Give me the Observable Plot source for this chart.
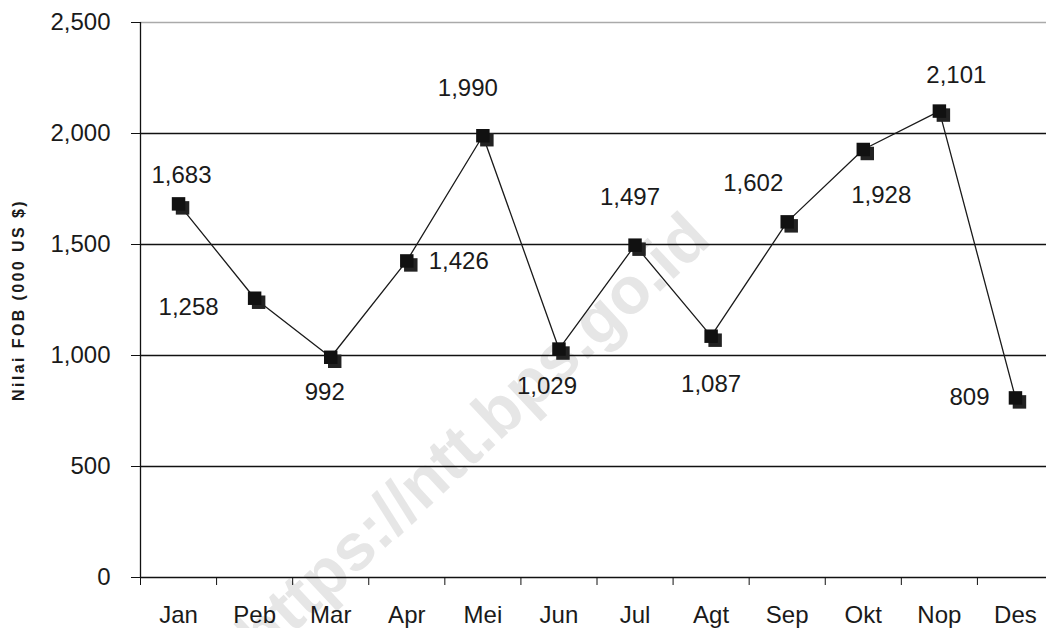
<!DOCTYPE html>
<html>
<head>
<meta charset="utf-8">
<script src="https://cdn.jsdelivr.net/npm/d3@7"></script>
<script src="https://cdn.jsdelivr.net/npm/@observablehq/plot@0.6"></script>
<style>
  html, body { margin: 0; padding: 0; background: #fff; overflow: hidden; }
  #chart { width: 1046px; height: 628px; }
</style>
</head>
<body>
<div id="chart"></div>
<script>
// ---- data ----
const months = ["Jan","Peb","Mar","Apr","Mei","Jun","Jul","Agt","Sep","Okt","Nop","Des"];
const values = [1683, 1258, 992, 1426, 1990, 1029, 1497, 1087, 1602, 1928, 2101, 809];
const yTicks = [0, 500, 1000, 1500, 2000, 2500];
const yLabel = "Nilai FOB (000 US $)";
const watermark = "https://ntt.bps.go.id";

// ---- layout of value labels (pixel offsets from each point) ----
const labelOffsets = [[3,-29],[-66,9],[-6,35],[52,0],[-15,-47],[-12,37],[-5,-48],[0,48],[-34,-39],[18,46],[17,-36],[-46,-1]];

const data = months.map((m, i) => ({month: m, pos: i + 0.5, value: values[i]}));
const fmt = d3.format(",");
const font = "Liberation Sans, Arial, Helvetica, sans-serif";

const labelMarks = data.map((d, i) => Plot.text([d], {
  x: "pos", y: "value", text: t => fmt(t.value),
  dx: labelOffsets[i][0], dy: labelOffsets[i][1],
  fontSize: 24, fill: "#1a1a1a", fontFamily: font
}));

const chart = Plot.plot({
  width: 1046,
  height: 628,
  marginLeft: 140,
  marginRight: 0,
  marginTop: 22,
  marginBottom: 51,
  style: {fontFamily: font, background: "#fff", color: "#111"},
  x: {type: "linear", domain: [0, 12], range: [140, 1053]},
  y: {domain: [0, 2500], range: [577, 22]},
  marks: [
    Plot.text([watermark], {
      frameAnchor: "top-left", dx: 333, dy: 414, rotate: -43,
      textAnchor: "middle", lineAnchor: "middle",
      fontSize: 66, fontWeight: "bold", fill: "#e6e6e6", fontFamily: font
    }),
    Plot.ruleY(yTicks.filter(t => t > 0 && t < 2500), {stroke: "#111", strokeWidth: 1.3}),
    Plot.ruleY([2500], {stroke: "#aaa", strokeWidth: 1.6}),
    Plot.ruleY([0], {stroke: "#111", strokeWidth: 1.5}),
    Plot.ruleX([0], {stroke: "#111", strokeWidth: 1.3}),
    Plot.axisY(yTicks, {
      tickSize: 9, tickPadding: 21, tickFormat: fmt, fontSize: 24,
      label: null, stroke: "#111", fill: "#1a1a1a"
    }),
    Plot.axisX(d3.range(13), {tickSize: 8, tickFormat: () => "", label: null, stroke: "#111"}),
    Plot.axisX(data.map(d => d.pos), {
      tickSize: 0, tickPadding: 28, tickFormat: p => months[Math.floor(p)],
      fontSize: 24, label: null, fill: "#1a1a1a"
    }),
    Plot.text([yLabel], {
      frameAnchor: "left", dx: -122, rotate: -90,
      textAnchor: "middle", lineAnchor: "middle",
      fontSize: 16, fontWeight: "bold", fill: "#1a1a1a", fontFamily: font
    }),
    Plot.line(data, {x: "pos", y: "value", stroke: "#1a1a1a", strokeWidth: 1.3}),
    Plot.dot(data, {x: "pos", y: "value", symbol: "square", r: 7.6, fill: "#222", dx: 4, dy: 4}),
    Plot.dot(data, {x: "pos", y: "value", symbol: "square", r: 7.6, fill: "#111"}),
    ...labelMarks
  ]
});

document.getElementById("chart").appendChild(chart);
chart.querySelectorAll("text").forEach(t => {
  if (t.textContent === yLabel) {
    t.setAttribute("letter-spacing", "2.4");
    t.style.letterSpacing = "2.4px";
  }
});
</script>
</body>
</html>
